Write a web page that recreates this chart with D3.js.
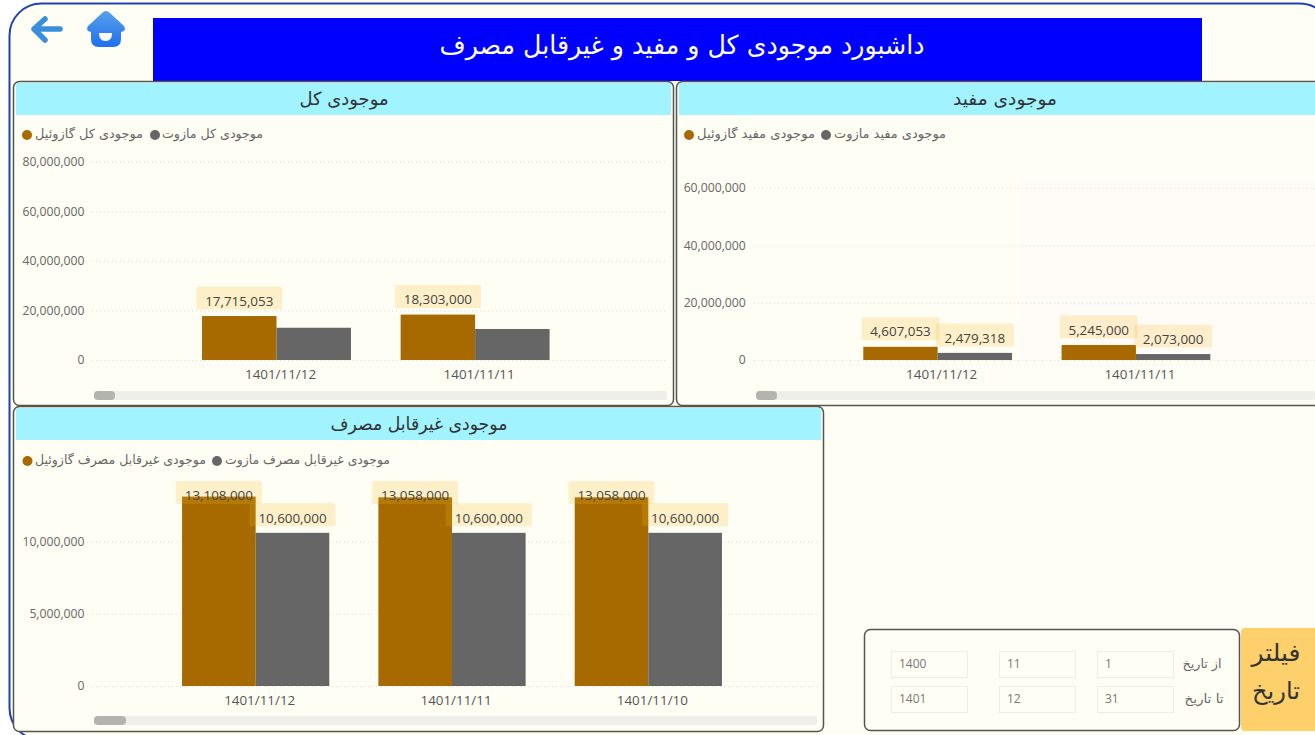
<!DOCTYPE html>
<html lang="fa"><head><meta charset="utf-8">
<script src="https://cdn.jsdelivr.net/npm/d3@7/dist/d3.min.js"></script>
<style>
html,body{margin:0;padding:0;background:#fff;overflow:hidden}
svg{display:block}
text{font-family:"Open Sans","DejaVu Sans",sans-serif}
.fa{font-family:"DejaVu Sans","Noto Sans",sans-serif;direction:rtl}
.ax path{display:none}
.ax text{font-family:"Open Sans",sans-serif;font-size:12.2px;fill:#666}
.cat text{fill:#555;font-size:13.4px}
</style></head><body>
<svg id="c" width="1315" height="735"></svg>
<script>
// ---- data ----
const pageTitle = "داشبورد موجودی کل و مفید و غیرقابل مصرف";
const totalTitle = "موجودی کل";
const totalDates = ["1401/11/12", "1401/11/11"];
const totalGasoil = [17715053, 18303000];
const totalMazut = [13000000, 12500000];
const totalTicks = [0, 20000000, 40000000, 60000000, 80000000];
const totalLegend = ["موجودی کل گازوئیل", "موجودی کل مازوت"];

const usefulTitle = "موجودی مفید";
const usefulDates = ["1401/11/12", "1401/11/11"];
const usefulGasoil = [4607053, 5245000];
const usefulMazut = [2479318, 2073000];
const usefulTicks = [0, 20000000, 40000000, 60000000];
const usefulLegend = ["موجودی مفید گازوئیل", "موجودی مفید مازوت"];

const deadTitle = "موجودی غیرقابل مصرف";
const deadDates = ["1401/11/12", "1401/11/11", "1401/11/10"];
const deadGasoil = [13108000, 13058000, 13058000];
const deadMazut = [10600000, 10600000, 10600000];
const deadTicks = [0, 5000000, 10000000];
const deadLegend = ["موجودی غیرقابل مصرف گازوئیل", "موجودی غیرقابل مصرف مازوت"];

const filterTitle = ["فیلتر", "تاریخ"];
const fromLabel = "از تاریخ";
const toLabel = "تا تاریخ";
const fromValues = ["1400", "11", "1"];
const toValues = ["1401", "12", "31"];

// ---- style ----
const GOLD = "#a66a00", GRAY = "#666666", BG = "#fffef4";
const svg = d3.select("#c");
const fmt = d3.format(",");

function fa(g, s, cx, cy, w, size, fill) {
  return g.append("text").attr("class", "fa").text(s)
    .attr("x", cx).attr("y", cy).attr("dy", ".35em")
    .attr("text-anchor", "middle").attr("font-size", size).attr("fill", fill)
    .attr("textLength", w).attr("lengthAdjust", "spacingAndGlyphs");
}

// frame
svg.append("rect").attr("x", 9.5).attr("y", 3.5).attr("width", 1322).attr("height", 736.5)
  .attr("rx", 32).attr("fill", BG).attr("stroke", "#2340ac").attr("stroke-width", 2);

// page title
svg.append("rect").attr("x", 153).attr("y", 18).attr("width", 1049).attr("height", 63).attr("fill", "#0000ff");
fa(svg, pageTitle, 682, 45, 485, 26, "#fff");

// back arrow
svg.append("path").attr("d", "M60 29 H36 M45 19 L34 29 L45 40")
  .attr("fill", "none").attr("stroke", "#3a8fdc").attr("stroke-width", 5.5)
  .attr("stroke-linecap", "round").attr("stroke-linejoin", "round");
// home icon
const homeGrad = svg.append("defs").append("linearGradient").attr("id", "hg").attr("x1", 0).attr("x2", 0).attr("y1", 0).attr("y2", 1);
homeGrad.append("stop").attr("offset", 0).attr("stop-color", "#58a0e8");
homeGrad.append("stop").attr("offset", 1).attr("stop-color", "#1f6ff0");
svg.append("path").attr("d", "M106 11 Q103.500 11 101 14 L88 26 Q85 31 91 32 L91 39 Q91 47 99 47 L113 47 Q121 47 121 39 L121 32 Q127 31 124 26 L111 14 Q108.500 11 106 11 Z")
  .attr("fill", "url(#hg)");
svg.append("path").attr("d", "M99 33 H112 Q112 41 105.500 41 Q99 41 99 33 Z").attr("fill", "#fffef4");

function panel(o) {
  const g = svg.append("g");
  g.append("rect").attr("x", o.x + .5).attr("y", o.y + .5).attr("width", o.w).attr("height", o.h)
    .attr("rx", 6).attr("fill", BG).attr("stroke", "#55554f").attr("stroke-width", 1.5);
  g.append("rect").attr("x", o.x + 3).attr("y", o.y + 2).attr("width", o.w - 5).attr("height", 32).attr("fill", "#a0f3ff");
  fa(g, o.title, o.titleX, o.y + 18, o.titleW, 18, "#333");

  // legend
  o.legend.forEach((s, i) => {
    const L = o.legendPos[i];
    g.append("circle").attr("cx", L.c).attr("cy", o.legY).attr("r", 5).attr("fill", i ? GRAY : GOLD);
    fa(g, s, L.x + L.w / 2, o.legY - 1, L.w, 12.5, "#666");
  });

  if (o.tint) g.append("rect").attr("x", o.tint[0]).attr("y", o.tint[1]).attr("width", o.tint[2]).attr("height", o.tint[3]).attr("fill", "#fffbf7");

  const y = d3.scaleLinear().domain(o.yDomain).range(o.yRange);
  const x = d3.scaleBand().domain(o.cats).range(o.xRange).paddingInner(.25).paddingOuter(.125);
  const x1 = d3.scaleBand().domain([0, 1]).range([0, x.bandwidth()]);

  // grid + y axis
  const ax = g.append("g").attr("class", "ax").attr("transform", `translate(${o.axisX},0)`)
    .call(d3.axisLeft(y).tickValues(o.ticks).tickFormat(fmt).tickSize(0).tickPadding(0));
  ax.selectAll("text").attr("x", 0);
  g.selectAll("line.grid").data(o.ticks).join("line").attr("class", "grid")
    .attr("x1", o.grid[0]).attr("x2", o.grid[1])
    .attr("y1", d => y(d) + .5).attr("y2", d => y(d) + .5)
    .attr("stroke", "#dcdcd5").attr("stroke-dasharray", "1 3");

  // bars
  [o.a, o.b].forEach((vals, si) => {
    g.append("g").selectAll("rect").data(vals).join("rect")
      .attr("x", (d, i) => x(o.cats[i]) + x1(si)).attr("width", x1.bandwidth())
      .attr("y", d => y(d)).attr("height", d => y(0) - y(d))
      .attr("fill", si ? GRAY : GOLD);
  });

  // category axis
  g.append("g").attr("class", "ax cat").attr("transform", `translate(4,${o.yRange[0] + 9})`)
    .call(d3.axisBottom(x).tickSize(0).tickPadding(0));

  // data labels
  const series = o.labelGray ? [o.a, o.b] : [o.a];
  series.forEach((vals, si) => {
    vals.forEach((v, i) => {
      const cx = x(o.cats[i]) + x1(si) + x1.bandwidth() / 2;
      const bottom = Math.max(y(v) - 6.500, o.labelMinBottom);
      g.append("rect").attr("x", cx - o.labelW / 2).attr("y", bottom - 23).attr("width", o.labelW).attr("height", 23)
        .attr("rx", 1.500).attr("fill", "#f5b91e").attr("fill-opacity", .2);
      g.append("text").text(fmt(v)).attr("x", cx).attr("y", bottom - 8.500).attr("dy", ".35em")
        .attr("text-anchor", "middle").attr("font-size", 13.400).attr("fill", "#444");
    });
  });

  // scrollbar
  g.append("rect").attr("x", o.grid[0] + 2).attr("y", o.scrollY).attr("width", o.scrollEnd - o.grid[0] - 2).attr("height", 9).attr("rx", 2).attr("fill", "#efefea");
  g.append("rect").attr("x", o.grid[0] + 2).attr("y", o.scrollY).attr("width", o.thumb).attr("height", 9).attr("rx", 4).attr("fill", "#b4b4ae");
}

panel({x: 13, y: 81, w: 660, h: 324, title: totalTitle, titleX: 344, titleW: 89,
  legend: totalLegend, legY: 135,
  legendPos: [{c: 27, x: 35, w: 108}, {c: 155, x: 162, w: 101}],
  cats: totalDates, a: totalGasoil, b: totalMazut, ticks: totalTicks,
  yDomain: [0, 80000000], yRange: [360, 161.500], xRange: [177.200, 574.400],
  axisX: 84.500, grid: [92, 667], labelGray: false, labelW: 86, labelMinBottom: 0,
  scrollY: 391, scrollEnd: 667, thumb: 21});

panel({x: 676, y: 81, w: 660, h: 324, title: usefulTitle, titleX: 1005, titleW: 104,
  legend: usefulLegend, legY: 135,
  legendPos: [{c: 689, x: 697, w: 118}, {c: 826, x: 834, w: 112}],
  tint: [1020, 178, 295, 182],
  cats: usefulDates, a: usefulGasoil, b: usefulMazut, ticks: usefulTicks,
  yDomain: [0, 60000000], yRange: [360, 188], xRange: [838.500, 1235.100],
  axisX: 745.700, grid: [754, 1315], labelGray: true, labelW: 78, labelMinBottom: 0,
  scrollY: 391, scrollEnd: 1315, thumb: 21});

panel({x: 13, y: 406, w: 810, h: 325, title: deadTitle, titleX: 419, titleW: 177,
  legend: deadLegend, legY: 461,
  legendPos: [{c: 27.500, x: 35, w: 171}, {c: 217, x: 225, w: 165}],
  cats: deadDates, a: deadGasoil, b: deadMazut, ticks: deadTicks,
  yDomain: [0, 10000000], yRange: [686, 541.500], xRange: [157.500, 746.500],
  axisX: 84.500, grid: [92, 817], labelGray: true, labelW: 86, labelMinBottom: 504,
  scrollY: 716, scrollEnd: 817, thumb: 32});

// filter
svg.append("rect").attr("x", 864.500).attr("y", 629.500).attr("width", 375).attr("height", 101)
  .attr("rx", 6).attr("fill", BG).attr("stroke", "#55554f").attr("stroke-width", 1.5);
svg.append("rect").attr("x", 1241).attr("y", 628).attr("width", 80).attr("height", 103).attr("rx", 4).attr("fill", "#fdd06b");
fa(svg, filterTitle[0], 1276, 653, 49, 24, "#333");
fa(svg, filterTitle[1], 1276, 691, 48, 24, "#333");
const inputX = [891, 999, 1097];
[[fromValues, 651, fromLabel, 1202, 39], [toValues, 686, toLabel, 1204, 39]].forEach(([vals, yy, lab, lx, lw]) => {
  vals.forEach((v, i) => {
    svg.append("rect").attr("x", inputX[i] + .5).attr("y", yy + .5).attr("width", 76).attr("height", 26)
      .attr("fill", "none").attr("stroke", "#eeeee6");
    svg.append("text").text(v).attr("x", inputX[i] + 8).attr("y", yy + 13).attr("dy", ".35em")
      .attr("font-size", 12).attr("fill", "#777");
  });
  fa(svg, lab, lx, yy + 13, lw, 12.5, "#666");
});
</script></body></html>
